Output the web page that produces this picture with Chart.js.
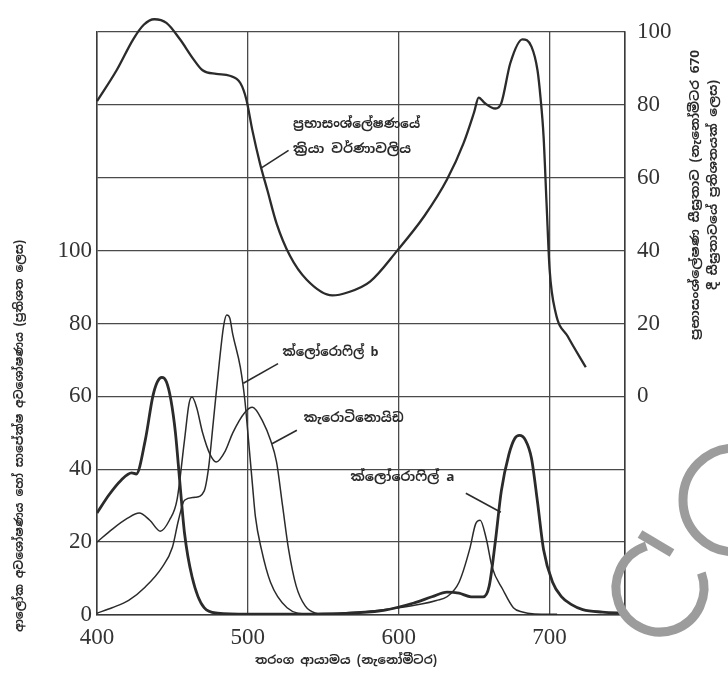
<!DOCTYPE html>
<html>
<head>
<meta charset="utf-8">
<script src="https://cdn.jsdelivr.net/npm/chart.js@4.4.0/dist/chart.umd.min.js"></script>
<style>
  html, body { margin: 0; padding: 0; background: #fff; }
  canvas { display: block; }
</style>
</head>
<body>
<canvas id="spectra" width="728" height="675"></canvas>
<script>
// ප්‍රභාසංශ්ලේෂණයේ ක්‍රියා වර්ණාවලිය (දකුණු අක්ෂය)
const actionNm = [400,413,424,431,438,446,455,464,470,479,488,495,499,503,508,513,519,528,539,556,566,581,599,617,632,643,650,653,657,664,668,674,682,688,692,694,696,698,700,704,712,724];
const actionRate = [81,89.5,98,102,103.5,102.5,98,92.5,89.5,88.5,88,86,81.5,73,64,56.5,47.5,38.5,32,27.7,28.5,31.5,40,49.5,59.5,69.5,78,82,80.5,79,80.5,91.5,98,96,89.5,82,71.5,53,35,23,16.5,8];

// ක්ලෝරොෆිල් a
const chlANm = [400,408,416,423,426,432,437,440,443,446,449,452,455,458,463,471,480,500,550,590,610,622,632,640,648,656,660,664,668,673,677,680,684,688,692,696,702,708,714,722,735,750];
const chlAAbs = [28,33,37,39,38.7,48,60,64,65.2,64,59,50,36,22.5,10.5,2,0.5,0.2,0.3,1.3,3.3,5,6.3,6,5,5,8,20,34,44,48.5,49.3,48,43,31,18,9,5,3,1.5,0.8,0.5];

// ක්ලෝරොෆිල් b
const chlBNm = [400,410,421,432,443,450,454,458,465,471,474,477,481,484,486,488,490,495,498,500,503,505,509,515,526,540,580,600,615,625,632,640,647,651,654,658,662,669,676,682,690,705];
const chlBAbs = [0.5,2,4,7.7,13,18.6,26,31.5,32.3,34,40.5,52.6,69,79.5,82.3,81.5,77,68,59,50,36,27,18,9,2,0.3,1,2,3,4,5,9,18,25,26,21,13,7,2,0.8,0.3,0.2];

// කැරොටිනොයිඩ
const caroNm = [400,410,420,428,435,442,448,453,458,461,463,466,470,475,479,485,490,498,503,510,515,519,523,527,532,538,545,555];
const caroAbs = [20,23.5,26.5,28,26,23,26,31.5,48,58,59.8,57,50,44,42,45,50,55.6,57,53,48,42,30,18,8,2.5,0.5,0];

// අක්ෂ
const xTicks = [400, 500, 600, 700];
const leftTicks = [0, 20, 40, 60, 80, 100];
const rightTicks = [0, 20, 40, 60, 80, 100];

const ink = '#2b2b2b';
const sinhala = "'Noto Sans Sinhala', 'Iskoola Pota', 'Noto Sans', sans-serif";

function pts(xs, ys) {
    return xs.map((x, i) => ({ x: x, y: ys[i] }));
}

// ලේබල් සහ ඊතල රේඛා (දත්ත ඛණ්ඩාංක වලින්)
const notes = [
    { axis: 'y2', text: ['ප්‍රභාසංශ්ලේෂණයේ', 'ක්‍රියා වර්ණාවලිය'], at: [530, 74.5], width: [127, 118], from: [527, 67.5], to: [509, 62.7] },
    { axis: 'y', text: ['ක්ලෝරොෆිල් b'], at: [523, 72], width: [96], from: [520, 69], to: [497, 63.6] },
    { axis: 'y', text: ['කැරොටිනොයිඩ'], at: [537, 54], width: [100], from: [532.5, 50.7], to: [516, 47] },
    { axis: 'y', text: ['ක්ලෝරොෆිල් a'], at: [568, 37.8], width: [104], from: [644.5, 33.4], to: [667.7, 28.2] }
];

function fitText(ctx, text, x, y, w, align) {
    const m = ctx.measureText(text).width || 1;
    const k = Math.min(1.6, Math.max(0.6, w / m));
    ctx.save();
    ctx.translate(x, y);
    ctx.scale(k, 1);
    ctx.textAlign = align;
    ctx.fillText(text, 0, 0);
    ctx.restore();
}

const extras = {
    id: 'extras',
    beforeDraw(chart) {
        const ctx = chart.ctx;
        ctx.save();
        ctx.fillStyle = '#fff';
        ctx.fillRect(0, 0, chart.width, chart.height);
        ctx.restore();
    },
    afterDraw(chart) {
        const ctx = chart.ctx;
        const sx = chart.scales.x;
        ctx.save();
        ctx.fillStyle = ink;
        ctx.strokeStyle = ink;
        ctx.textBaseline = 'middle';

        // ලේබල්
        ctx.font = 'bold 13px ' + sinhala;
        notes.forEach(n => {
            const sy = chart.scales[n.axis];
            const x = sx.getPixelForValue(n.at[0]);
            const y = sy.getPixelForValue(n.at[1]);
            n.text.forEach((t, i) => fitText(ctx, t, x, y + i * 25, n.width[i], 'left'));
            ctx.lineWidth = 1.6;
            ctx.beginPath();
            ctx.moveTo(sx.getPixelForValue(n.from[0]), sy.getPixelForValue(n.from[1]));
            ctx.lineTo(sx.getPixelForValue(n.to[0]), sy.getPixelForValue(n.to[1]));
            ctx.stroke();
        });

        // අක්ෂ නාම
        ctx.font = 'bold 12px ' + sinhala;
        fitText(ctx, 'තරංග ආයාමය (නැනෝමීටර)', 346, 661, 182, 'center');

        ctx.save();
        ctx.translate(20, 436);
        ctx.rotate(-Math.PI / 2);
        fitText(ctx, 'ආලෝක අවශෝෂණය හෝ සාපේක්ෂ අවශෝෂණය (ප්‍රතිශත ලෙස)', 0, 0, 392, 'center');
        ctx.restore();

        ctx.save();
        ctx.translate(696, 195);
        ctx.rotate(-Math.PI / 2);
        fitText(ctx, 'ප්‍රභාසංශ්ලේෂණ සීඝ්‍රතාව (නැනෝමීටර 670', 0, 0, 290, 'center');
        ctx.restore();

        ctx.save();
        ctx.translate(714, 185);
        ctx.rotate(-Math.PI / 2);
        fitText(ctx, 'දී සීඝ්‍රතාවයේ ප්‍රතිශතයක් ලෙස)', 0, 0, 210, 'center');
        ctx.restore();

        // දිය සලකුණ
        ctx.strokeStyle = '#9c9c9c';
        ctx.lineWidth = 9;
        ctx.beginPath();
        ctx.arc(735, 500, 52, 0.5 * Math.PI, 1.5 * Math.PI);
        ctx.stroke();
        ctx.beginPath();
        ctx.arc(660, 588, 44, -0.11 * Math.PI, 1.4 * Math.PI);
        ctx.stroke();
        ctx.beginPath();
        ctx.moveTo(640, 534);
        ctx.lineTo(672, 553);
        ctx.stroke();
        ctx.restore();
    }
};

const tickFont = { family: "'Liberation Serif', 'DejaVu Serif', serif", size: 23 };
const gridStyle = { color: '#4a4a4a', lineWidth: 1.3, drawTicks: false };

new Chart(document.getElementById('spectra'), {
    type: 'line',
    data: {
        datasets: [
            { label: 'action', data: pts(actionNm, actionRate), yAxisID: 'y2', borderWidth: 2.3, clip: false },
            { label: 'chlA', data: pts(chlANm, chlAAbs), yAxisID: 'y', borderWidth: 2.8 },
            { label: 'chlB', data: pts(chlBNm, chlBAbs), yAxisID: 'y', borderWidth: 1.5 },
            { label: 'caro', data: pts(caroNm, caroAbs), yAxisID: 'y', borderWidth: 1.5 }
        ].map(d => Object.assign({
            borderColor: ink,
            pointRadius: 0,
            fill: false,
            cubicInterpolationMode: 'monotone'
        }, d))
    },
    options: {
        responsive: false,
        animation: false,
        layout: { padding: { top: 32, left: 0, right: 0, bottom: 0 } },
        plugins: { legend: { display: false }, tooltip: { enabled: false } },
        scales: {
            x: {
                type: 'linear', min: 400, max: 750,
                afterBuildTicks: s => { s.ticks = xTicks.concat([750]).map(v => ({ value: v })); },
                ticks: { callback: v => xTicks.includes(v) ? v : '', font: tickFont, color: '#333', padding: 9, maxRotation: 0, autoSkip: false },
                grid: gridStyle,
                border: { color: '#3a3a3a', width: 1.5 },
                afterFit: s => { s.height = 60; }
            },
            y: {
                position: 'left', min: 0, max: 160,
                ticks: { stepSize: 20, callback: v => leftTicks.includes(v) ? v : '', font: tickFont, color: '#333', padding: 5 },
                grid: gridStyle,
                border: { color: '#3a3a3a', width: 1.5 },
                afterFit: s => { s.width = 97; }
            },
            y2: {
                position: 'right', min: -60, max: 100,
                ticks: { stepSize: 20, callback: v => rightTicks.includes(v) ? v : '', font: tickFont, color: '#333', padding: 12 },
                grid: { display: false, drawTicks: false },
                border: { color: '#3a3a3a', width: 1.5 },
                afterFit: s => { s.width = 103; }
            }
        }
    },
    plugins: [extras]
});
</script>
</body>
</html>
